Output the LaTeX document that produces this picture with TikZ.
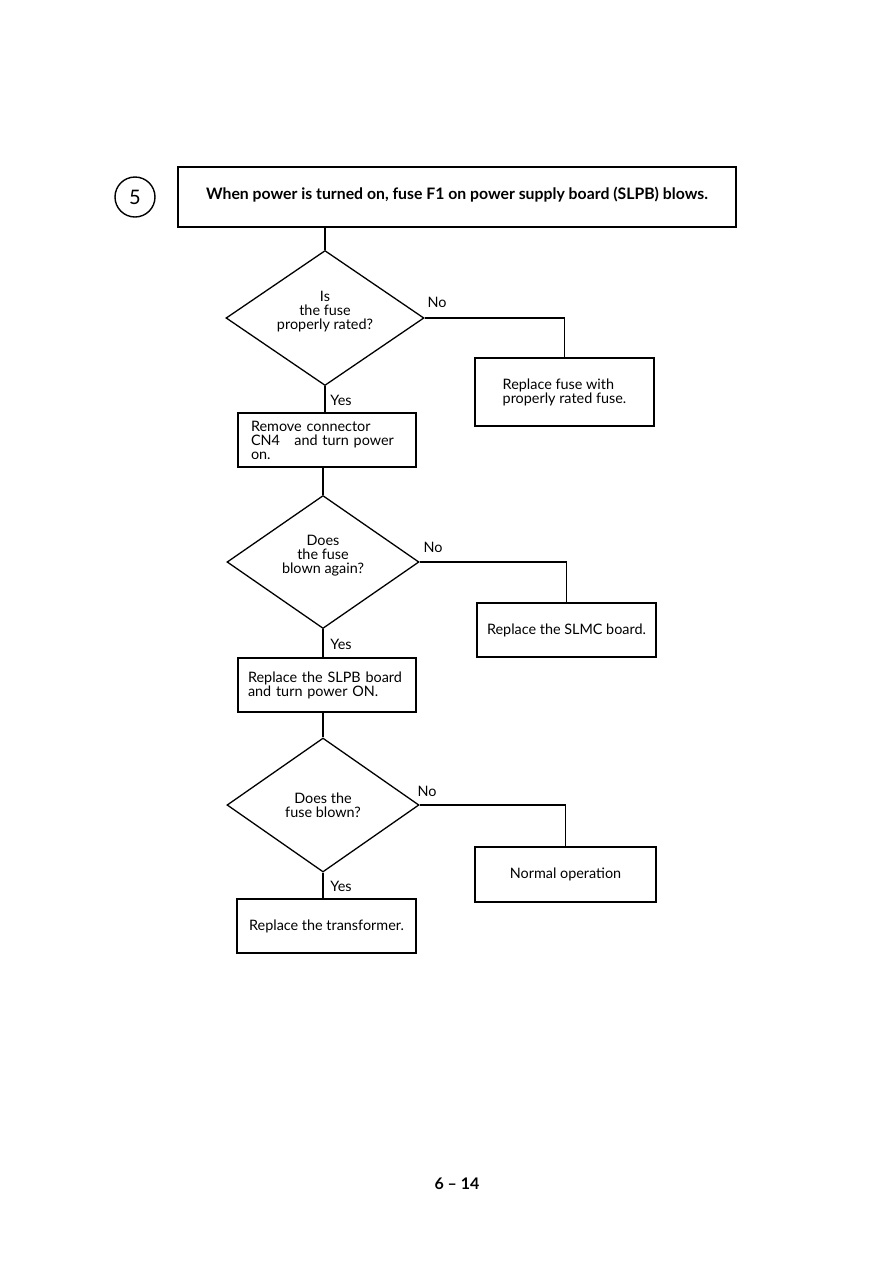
\documentclass[tikz,border=0pt]{standalone}
\usepackage{fontspec}
\setmainfont{Lato}
\usetikzlibrary{shapes.geometric}
\begin{document}
\begin{tikzpicture}[x=1pt,y=-1pt,line width=1.3pt,
  txt/.style={font=\fontsize{14.4}{14}\selectfont},
  box/.style={draw,rectangle,inner ysep=0pt,txt},
  dec/.style={draw,diamond,aspect=1.45,inner sep=0pt,align=center,txt},
  lbl/.style={inner sep=0pt,txt}]
\useasboundingbox (0,0) rectangle (891,1262);
% header
\node[draw,circle,minimum size=40pt,inner sep=0pt,line width=1.4pt,font=\fontsize{20}{20}\selectfont] (num) at (135,197) {5};
\node[draw,rectangle,minimum width=558pt,minimum height=60pt,text depth=8pt,font=\bfseries\fontsize{15.8}{18}\selectfont] (title) at (457,197)
  {When power is turned on, fuse F1 on power supply board (SLPB) blows.};
% step 1
\node[dec,minimum width=198pt,minimum height=135pt] (d1) at (325,318) {Is\\the fuse\\properly rated?\\[2pt]};
\node[box,minimum width=179pt,minimum height=68pt,align=left] (r1) at (564.5,392) {Replace fuse with\\properly rated fuse.};
\node[box,minimum width=178pt,minimum height=54pt,text width=152pt,inner xsep=13pt,align=left] (b1) at (327,440)
  {Remove connector\\CN4\ \ \ and turn power\\on.};
\node[lbl] (no1) at (437,302) {No};
\node[lbl] (yes1) at (341,400) {Yes};
% step 2
\node[dec,minimum width=192pt,minimum height=133pt] (d2) at (323,562) {Does\\the fuse\\blown again?\\[2pt]};
\node[box,minimum width=179pt,minimum height=54pt] (r2) at (566.5,630) {Replace the SLMC board.};
\node[box,minimum width=178pt,minimum height=54pt,text width=158pt,inner xsep=10pt,align=left] (b2) at (327,685)
  {Replace the SLPB board\\and turn power ON.};
\node[lbl] (no2) at (433,547) {No};
\node[lbl] (yes2) at (341,644) {Yes};
% step 3
\node[dec,minimum width=192pt,minimum height=134pt] (d3) at (323,805) {Does the\\fuse blown?};
\node[box,minimum width=181pt,minimum height=55pt] (r3) at (565.5,874.5) {Normal operation};
\node[box,minimum width=179pt,minimum height=54pt] (b3) at (326.5,926) {Replace the transformer.};
\node[lbl] (no3) at (427,791) {No};
\node[lbl] (yes3) at (341,886) {Yes};
% page number
\node[inner sep=0pt,font=\bfseries\fontsize{16}{18}\selectfont] (page) at (457,1184) {6 -- 14};
% connectors
\draw (d1.north) -- (d1.north |- title.south);
\draw (d1.east) -| (r1.north);
\draw (d1.south) -- (d1.south |- b1.north);
\draw (d2.north) -- (d2.north |- b1.south);
\draw (d2.east) -| (r2.north);
\draw (d2.south) -- (d2.south |- b2.north);
\draw (d3.north) -- (d3.north |- b2.south);
\draw (d3.east) -| (r3.north);
\draw (d3.south) -- (d3.south |- b3.north);
\end{tikzpicture}
\end{document}
